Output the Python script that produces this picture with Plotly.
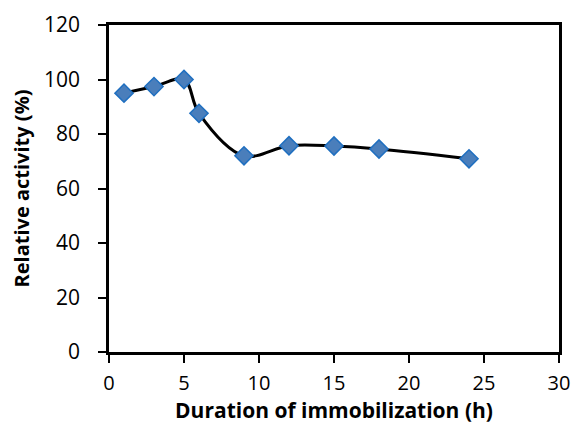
import plotly.graph_objects as go

hours = [1, 3, 5, 6, 9, 12, 15, 18, 24]
activity = [95, 97.4, 100, 87.6, 72, 75.7, 75.6, 74.5, 70.9]
x_ticks = [0, 5, 10, 15, 20, 25, 30]
y_ticks = [0, 20, 40, 60, 80, 100, 120]

fig = go.Figure()
fig.add_trace(go.Scatter(
    x=hours, y=activity, mode="lines+markers",
    line=dict(color="black", width=3, shape="spline", smoothing=1),
    marker=dict(symbol="diamond", size=14, color="#4A7EBB",
                line=dict(color="#1F6FC0", width=1.5)),
    showlegend=False,
    cliponaxis=False,
))

font_family = "'Open Sans', Arial, sans-serif"
fig.update_layout(
    width=576, height=425,
    margin=dict(l=109, r=17, t=25, b=73),
    paper_bgcolor="white", plot_bgcolor="white",
    font=dict(family=font_family, color="black"),
)
fig.update_xaxes(
    range=[0, 30], tickvals=x_ticks, ticktext=[str(v) for v in x_ticks],
    showgrid=False, zeroline=False, automargin=False,
    showline=True, linecolor="black", linewidth=2.5, mirror=True,
    ticks="outside", ticklen=8, tickwidth=1.5, tickcolor="black",
    tickfont=dict(size=20), ticklabelstandoff=3,
    title=dict(text="<b>Duration of immobilization (h)</b>", font=dict(size=21), standoff=5),
)
fig.update_yaxes(
    range=[0, 120], tickvals=y_ticks, ticktext=[str(v) for v in y_ticks],
    showgrid=False, zeroline=False, automargin=False,
    showline=True, linecolor="black", linewidth=2.5, mirror=True,
    ticks="outside", ticklen=8, tickwidth=1.5, tickcolor="black",
    tickfont=dict(size=21), ticklabelstandoff=14,
    title=dict(text="<b>Relative activity (%)</b>", font=dict(size=20), standoff=10),
)

fig.write_html(
    "out.html",
    config={"displayModeBar": False},
    post_script="document.body.style.margin='0px';document.body.style.overflow='hidden';",
)
